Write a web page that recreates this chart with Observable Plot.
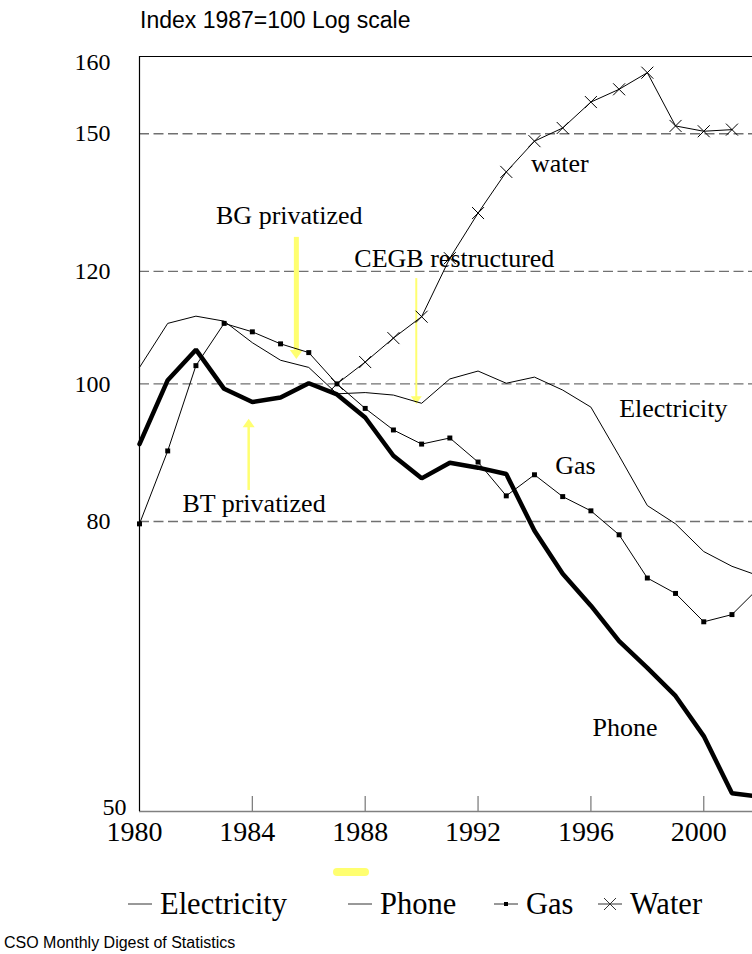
<!DOCTYPE html>
<html>
<head>
<meta charset="utf-8">
<script src="https://cdn.jsdelivr.net/npm/d3@7"></script>
<script src="https://cdn.jsdelivr.net/npm/@observablehq/plot@0.6"></script>
<style>
html, body { margin: 0; padding: 0; background: #fff; overflow: hidden; }
body { width: 752px; height: 954px; position: relative; }
#title { position: absolute; left: 140px; top: 7px; font-family: "Liberation Sans", Arial, sans-serif; font-size: 23px; color: #000; white-space: nowrap; }
#chart { position: absolute; left: 0; top: 40px; width: 802px; height: 811px; }
#chart svg { max-width: none !important; width: 802px !important; height: 811px !important; overflow: visible; }
#keybar { position: absolute; left: 333px; top: 868px; width: 36px; height: 8px; border-radius: 4px; background: #ffff70; }
.leg { position: absolute; top: 887px; font-family: "Liberation Serif", "Times New Roman", serif !important; font-size: 30.5px; color: #000; white-space: nowrap; line-height: 34px; display: flex; align-items: center; }
.leg span { font-family: "Liberation Serif", "Times New Roman", serif !important; }
.leg svg { margin-right: 8px; }
#caption { position: absolute; left: 4px; top: 934px; font-family: "Liberation Sans", Arial, sans-serif; font-size: 16px; color: #000; white-space: nowrap; }
</style>
</head>
<body>
<div id="title">Index 1987=100 Log scale</div>
<div id="chart"></div>
<div id="keybar"></div>
<div id="legend"></div>
<div id="caption">CSO Monthly Digest of Statistics</div>
<script>
// ---- data ----
const years = [1980,1981,1982,1983,1984,1985,1986,1987,1988,1989,1990,1991,1992,1993,1994,1995,1996,1997,1998,1999,2000,2001,2002];
const electricity = [102.7,110.3,111.6,110.7,106.9,103.9,102.7,98.4,98.6,98.2,96.9,100.8,102.1,100.1,101.1,99.0,96.3,89.0,82.1,79.7,76.2,74.4,73.2];
const phone = [90.7,100.6,105.7,99.2,97.1,97.8,100.1,98.3,94.7,89.0,85.8,88.0,87.3,86.4,78.8,73.5,69.8,65.9,63.1,60.3,56.5,51.5,51.2];
const gas = [79.7,89.7,103.0,110.3,108.8,106.7,105.2,100.0,96.1,92.8,90.7,91.6,88.1,83.4,86.3,83.3,81.4,78.3,73.0,71.2,68.0,68.8,72.0];
const waterYears = [1987,1988,1989,1990,1991,1992,1993,1994,1995,1996,1997,1998,1999,2000,2001];
const water = [100.0,103.6,107.7,111.5,122.6,131.9,141.0,148.2,151.4,157.9,161.2,165.6,151.9,150.6,151.0];

const xTicks = [1980,1984,1988,1992,1996,2000];
const yTicks = [50,80,100,120,150,168.5];
const yTickLabels = ["50","80","100","120","150","160"];
const gridValues = [80,100,120,150];

const annoText = ["BG privatized","CEGB restructured","BT privatized","water","Electricity","Gas","Phone"];
const annoX = [1985.31,1991.16,1984.06,1994.9,1998.92,1995.45,1997.21];
const annoY = [131.3,122.4,82.3,142.8,96.0,87.6,57.3];

const arrowX = [1985.56,1989.81,1983.87];
const arrowFrom = [126.9,118.7,84.2];
const arrowTo = [104.1,96.8,94.5];

const legendNames = ["Electricity","Phone","Gas","Water"];

// ---- styles ----
const SERIF = "'Liberation Serif', 'Times New Roman', serif";
const YELLOW = "#ffff70";
const arrowStyle = [{w: 5, head: 6.5}, {w: 2, head: 5.5}, {w: 2.5, head: 6}];
const legendLeft = [128, 348, 494, 598];

const rows = (xs, vs) => vs.map((v, i) => ({x: xs[i], y: v}));
const elecRows = rows(years, electricity);
const phoneRows = rows(years, phone);
const gasRows = rows(years, gas);
const waterRows = rows(waterYears, water);

const triDown = {draw(ctx, size) { const s = Math.sqrt(size / Math.PI); ctx.moveTo(0, 0); ctx.lineTo(-s, -1.4 * s); ctx.lineTo(s, -1.4 * s); ctx.closePath(); }};
const triUp = {draw(ctx, size) { const s = Math.sqrt(size / Math.PI); ctx.moveTo(0, 0); ctx.lineTo(-s, 1.4 * s); ctx.lineTo(s, 1.4 * s); ctx.closePath(); }};
const cross = {draw(ctx, size) { const s = Math.sqrt(size / Math.PI); ctx.moveTo(-s, -s); ctx.lineTo(s, s); ctx.moveTo(-s, s); ctx.lineTo(s, -s); }};

const labelOf = new Map(yTicks.map((v, i) => [v, yTickLabels[i]]));

const arrowMarks = arrowX.flatMap((ax, i) => {
  const down = arrowTo[i] < arrowFrom[i];
  const st = arrowStyle[i];
  return [
    Plot.arrow([i], {x1: j => arrowX[j], y1: j => arrowFrom[j], x2: j => arrowX[j], y2: j => arrowTo[j],
      stroke: YELLOW, strokeWidth: st.w, headLength: 0, insetEnd: st.head * 1.2, strokeLinecap: "butt"}),
    Plot.dot([i], {x: j => arrowX[j], y: j => arrowTo[j], r: st.head, symbol: down ? triDown : triUp, fill: YELLOW, stroke: "none"})
  ];
});

const chart = Plot.plot({
  width: 802,
  height: 811,
  marginLeft: 139,
  marginRight: 0,
  marginTop: 16,
  marginBottom: 40,
  style: {fontFamily: SERIF, background: "transparent", color: "#000", maxWidth: "none", overflow: "visible"},
  x: {domain: [1980, 2003.5], label: null},
  y: {type: "log", domain: [50, 170], label: null, axis: null},
  marks: [
    Plot.ruleY(gridValues, {stroke: "#707070", strokeWidth: 1.4, strokeDasharray: "10,4.5"}),
    Plot.ruleY([50], {stroke: "#808080", strokeWidth: 1.6}),
    Plot.ruleY([170], {stroke: "#000", strokeWidth: 1.2}),
    Plot.ruleX([1980], {stroke: "#000", strokeWidth: 1.2}),
    Plot.axisX(xTicks.slice(1), {anchor: "bottom", tickSize: -15, stroke: "#808080", strokeWidth: 1.3, tickFormat: () => ""}),
    Plot.axisX(xTicks, {anchor: "bottom", tickSize: 0, tickPadding: 10, fontSize: 28, fontFamily: SERIF, dx: -5, tickFormat: d => String(d)}),
    Plot.text(yTicks.slice(1), {y: d => d, frameAnchor: "left", dx: -29, textAnchor: "end", lineAnchor: "middle", fontSize: 24, fontFamily: SERIF, fill: "#000", text: d => labelOf.get(d)}),
    Plot.text(yTicks.slice(0, 1), {y: d => d, frameAnchor: "left", dx: -13, dy: -4, textAnchor: "end", lineAnchor: "middle", fontSize: 24, fontFamily: SERIF, fill: "#000", text: d => labelOf.get(d)}),
    ...arrowMarks,
    Plot.line(elecRows, {x: "x", y: "y", stroke: "#000", strokeWidth: 1}),
    Plot.line(gasRows, {x: "x", y: "y", stroke: "#000", strokeWidth: 1}),
    Plot.dot(gasRows, {x: "x", y: "y", symbol: "square", r: 2.8, fill: "#000", stroke: "none"}),
    Plot.line(waterRows, {x: "x", y: "y", stroke: "#000", strokeWidth: 1}),
    Plot.dot(waterRows, {x: "x", y: "y", symbol: cross, r: 6, stroke: "#000", strokeWidth: 1, fill: "none"}),
    Plot.line(phoneRows, {x: "x", y: "y", stroke: "#000", strokeWidth: 4.5, strokeLinejoin: "miter"}),
    Plot.text(annoText, {x: (d, i) => annoX[i], y: (d, i) => annoY[i], text: d => d, fontSize: 26, fontFamily: SERIF, fill: "#000", textAnchor: "middle", lineAnchor: "middle"})
  ]
});
document.getElementById("chart").appendChild(chart);

// ---- legend ----
const legend = document.getElementById("legend");
const swatch = (name) => {
  let inner = `<line x1="0" y1="8" x2="24" y2="8" stroke="#333" stroke-width="1"/>`;
  if (name === "Gas") inner += `<rect x="10" y="6" width="4" height="4" fill="#000"/>`;
  if (name === "Water") inner += `<path d="M6,2L18,14M6,14L18,2" stroke="#333" stroke-width="1"/>`;
  return `<svg width="24" height="16" viewBox="0 0 24 16">${inner}</svg>`;
};
legendNames.forEach((name, i) => {
  const el = document.createElement("div");
  el.className = "leg";
  el.style.left = legendLeft[i] + "px";
  el.innerHTML = swatch(name) + `<span>${name}</span>`;
  legend.appendChild(el);
});
</script>
</body>
</html>
